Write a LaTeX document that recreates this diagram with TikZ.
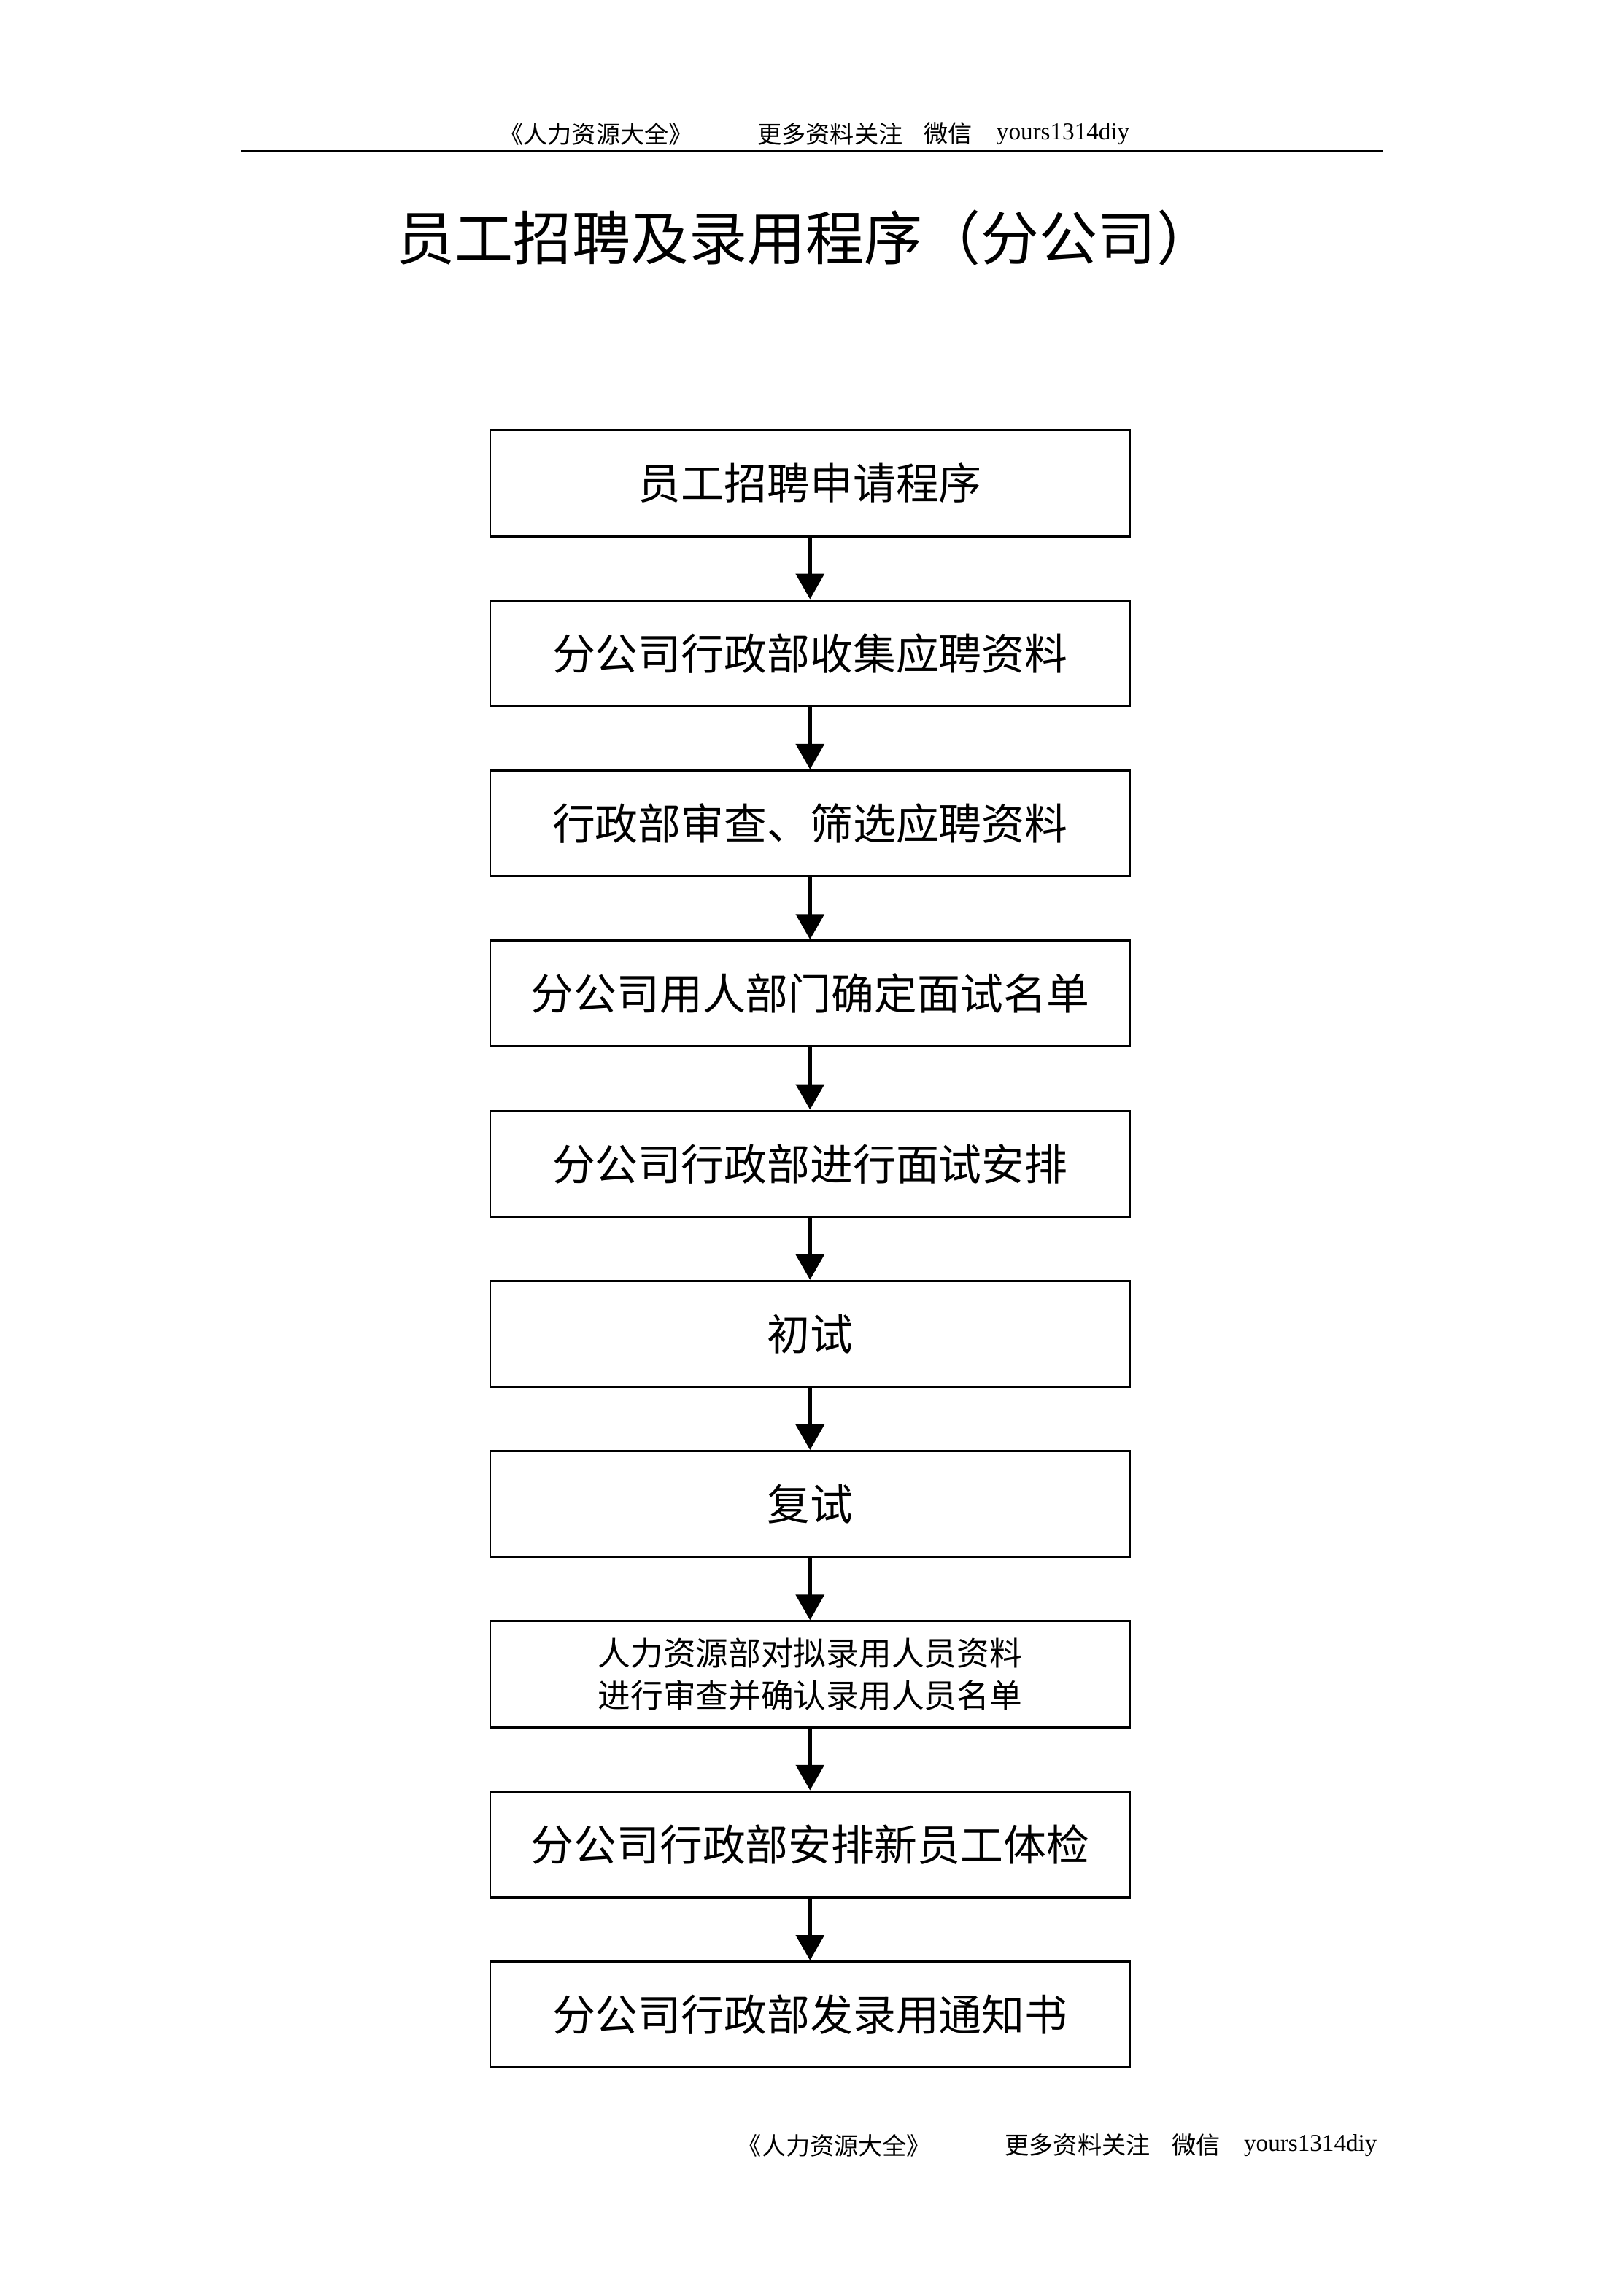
\documentclass[tikz,border=0pt]{standalone}
\usepackage{fontspec}
\setmainfont{Liberation Serif}
\newfontfamily\cjk{Noto Sans CJK SC}
\usetikzlibrary{arrows.meta}

\tikzset{
  stepbox/.style={draw,line width=0.8pt,minimum width=8.27cm,minimum height=1.37cm,
    inner sep=0pt,align=center,font=\cjk\fontsize{15.8}{19}\selectfont},
  flow/.style={line width=1.6pt,-{Triangle[length=0.33cm,width=0.36cm]}},
  note/.style={anchor=west,inner sep=0pt,font=\fontsize{8.9}{10}\selectfont},
}

\begin{document}
\begin{tikzpicture}[scale=1]
\useasboundingbox (0,0) rectangle (21,-29.7);

% Header
\node[note] (hdA) at (6.45,-1.73) {\cjk 《人力资源大全》};
\node[note] (hdB) at (9.79,-1.73) {\cjk 更多资料关注};
\node[note] (hdC) at (11.94,-1.73) {\cjk 微信};
\node[note] (hdD) at (12.88,-1.73) {yours1314diy};
\draw[line width=0.8pt] (3.12,-1.96) -- (17.88,-1.96);

% Title
\node[font=\cjk\fontsize{21.5}{26}\selectfont] (title) at (10.42,-3.08) {员工招聘及录用程序（分公司）};

% Steps
\foreach \i/\txt in {0/员工招聘申请程序,1/分公司行政部收集应聘资料,2/行政部审查、筛选应聘资料,
    3/分公司用人部门确定面试名单,4/分公司行政部进行面试安排,5/初试,6/复试,
    8/分公司行政部安排新员工体检,9/分公司行政部发录用通知书}
  \node[stepbox] (b\i) at (10.475,{-6.25-2.201*\i}) {\txt};
\node[stepbox,font=\cjk\fontsize{12}{15.5}\selectfont] (b7) at (10.475,{-6.25-2.201*7})
  {人力资源部对拟录用人员资料\\进行审查并确认录用人员名单};

% Arrows
\foreach \i [evaluate=\i as \j using int(\i+1)] in {0,...,8}
  \draw[flow] (b\i.south) -- (b\j.north);

% Footer
\node[note] (ftA) at (9.53,-27.75) {\cjk 《人力资源大全》};
\node[note] (ftB) at (12.99,-27.75) {\cjk 更多资料关注};
\node[note] (ftC) at (15.15,-27.75) {\cjk 微信};
\node[note] (ftD) at (16.08,-27.75) {yours1314diy};

\end{tikzpicture}
\end{document}
